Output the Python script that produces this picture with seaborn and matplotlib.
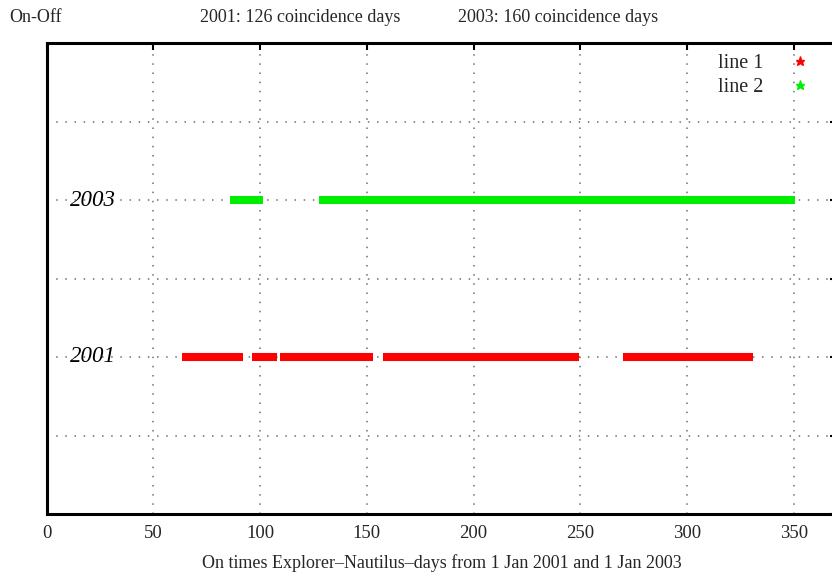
import matplotlib
matplotlib.use("Agg")
import matplotlib.pyplot as plt
from matplotlib.lines import Line2D
import seaborn as sns
import pandas as pd

# ---- data ----
series_names = ["line 1", "line 2"]
year_labels = ["2001", "2003"]
year_levels = [2, 4]
seg2001_start = [63.4, 96.2, 109.3, 157.5, 270.0]
seg2001_end = [92.0, 107.9, 152.9, 249.5, 330.8]
seg2003_start = [86.0, 127.6]
seg2003_end = [101.4, 350.4]
x_ticks = [0, 50, 100, 150, 200, 250, 300, 350]
y_ticks = [0, 1, 2, 3, 4, 5, 6]
header_texts = ["On-Off", "2001: 126 coincidence days", "2003: 160 coincidence days"]
x_label = "On times Explorer\u2013Nautilus\u2013days from 1 Jan 2001 and 1 Jan 2003"

colors = {"line 1": "#ff0000", "line 2": "#00ee00"}

rows = []
for name, lvl, starts, ends in [("line 1", year_levels[0], seg2001_start, seg2001_end),
                                ("line 2", year_levels[1], seg2003_start, seg2003_end)]:
    for i, (s, e) in enumerate(zip(starts, ends)):
        rows.append({"day": s, "level": lvl, "series": name, "seg": f"{name}-{i}"})
        rows.append({"day": e, "level": lvl, "series": name, "seg": f"{name}-{i}"})
df = pd.DataFrame(rows)

sns.set_style("white")
plt.rcParams["font.family"] = ["Liberation Serif", "DejaVu Serif"]

W, H = 832, 576
fig = plt.figure(figsize=(W / 100, H / 100), dpi=100)
x0_px, x350_px = 46.5, 794.0
ppd = (x350_px - x0_px) / 350.0
xmax = 370
top_px, bot_px = 43.0, 514.0
ax = fig.add_axes([x0_px / W, 1 - bot_px / H, xmax * ppd / W, (bot_px - top_px) / H])

# grid
for xv in x_ticks[1:]:
    ax.axvline(xv, color="#6f6f6f", lw=1.1, ls=(0, (1, 5)), zorder=0)
for yv in y_ticks[1:-1]:
    ax.axhline(yv, color="#6f6f6f", lw=1.1, ls=(0, (1, 5)), zorder=0)

sns.lineplot(data=df, x="day", y="level", hue="series", units="seg", estimator=None,
             palette=colors, lw=5.8, ax=ax, legend=False, sort=False)
for ln in ax.get_lines():
    ln.set_solid_capstyle("butt")

ax.set_xlim(0, xmax)
ax.set_ylim(0, 6)
ax.set_xticks(x_ticks)
ax.set_xticklabels([str(v) for v in x_ticks], fontsize=13.5)
ax.set_yticks(y_ticks)
ax.set_yticklabels([])
ax.tick_params(axis="both", direction="in", length=5, width=1.5, top=True, right=True, color="black")
ax.tick_params(axis="x", pad=8)
ax.set_xlabel(x_label, fontsize=13, labelpad=9)
ax.set_ylabel("")
for sp in ax.spines.values():
    sp.set_linewidth(2.2)
    sp.set_color("black")

trans = ax.get_yaxis_transform()
for lbl, lvl in zip(year_labels, year_levels):
    ax.text(23.5 / (xmax * ppd), lvl, lbl, transform=trans, ha="left", va="center",
            fontsize=16.5, style="italic", color="black")

# header texts
fig.text(9 / W, 1 - 17 / H, header_texts[0], ha="left", va="center", fontsize=13)
fig.text(300 / W, 1 - 17 / H, header_texts[1], ha="center", va="center", fontsize=13)
fig.text(558 / W, 1 - 17 / H, header_texts[2], ha="center", va="center", fontsize=13)

handles = [Line2D([], [], marker="*", color=colors[n], ls="none", markersize=6.5) for n in series_names]
fig.legend(handles, series_names, loc="upper left", bbox_to_anchor=(718 / W, 1 - 53.5 / H),
           frameon=False, markerfirst=False, fontsize=14.5, borderpad=0, borderaxespad=0,
           handletextpad=0.8, labelspacing=0.28, handlelength=2.0)

fig.savefig("out.png", dpi=100)
